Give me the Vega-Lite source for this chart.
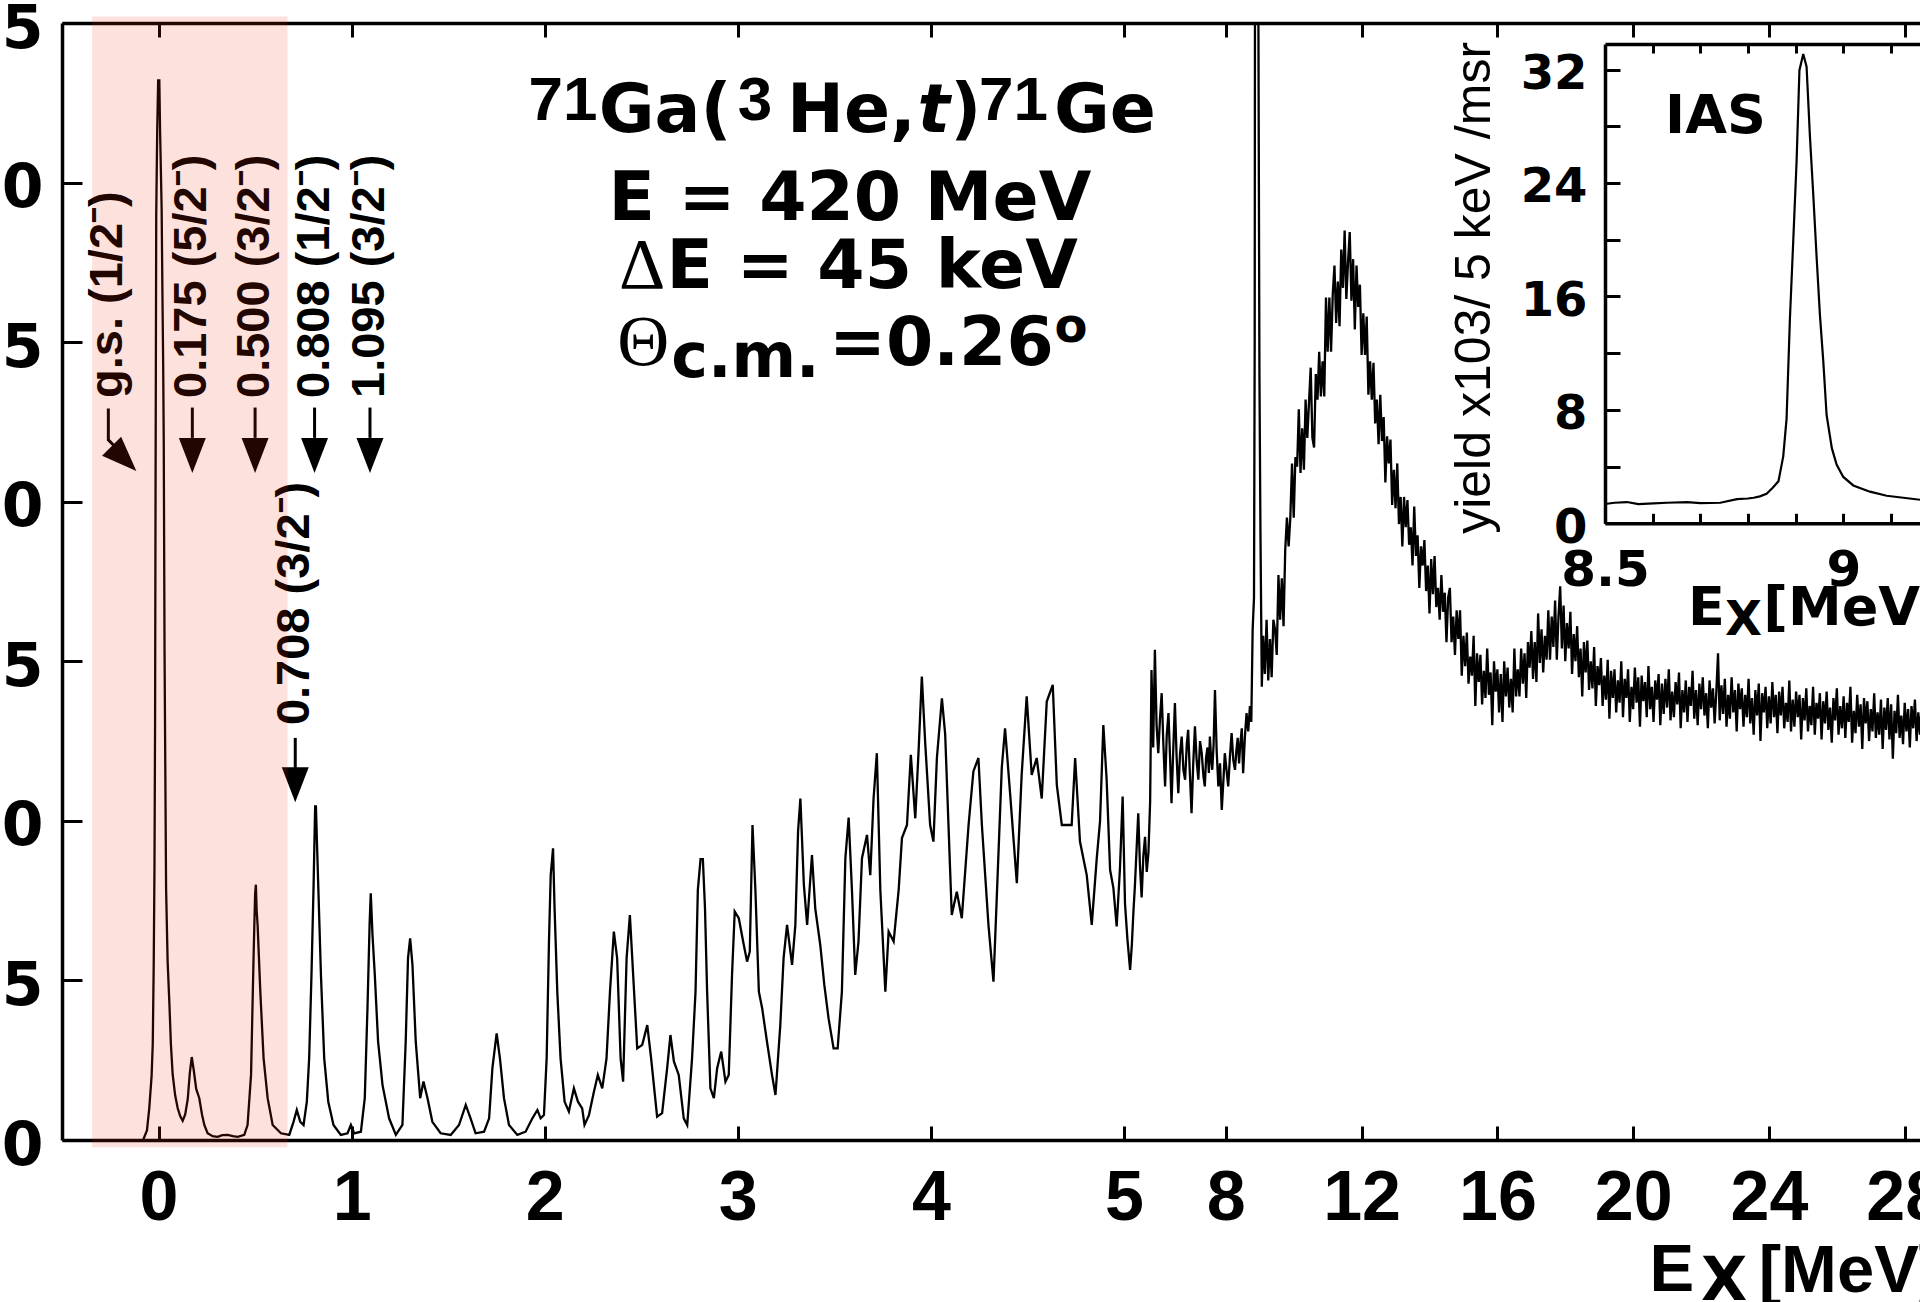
{
  "$schema": "https://vega.github.io/schema/vega-lite/v6.json",
  "autosize": {"type": "none"},
  "padding": {"left": 62, "top": 23, "right": 0, "bottom": 162},
  "width": 1858,
  "height": 1117,
  "background": "white",
  "config": {"view": {"stroke": null}, "axis": {"grid": false, "domainColor": "black", "tickColor": "black", "labelColor": "black"}},
  "datasets": {
    "spectrum": [
      {"E": -0.08, "v": 0}, {"E": -0.06, "v": 0.3}, {"E": -0.048, "v": 1.0}, {"E": -0.036, "v": 2.0}, {"E": -0.03, "v": 3.0},
      {"E": -0.025, "v": 5.5}, {"E": -0.021, "v": 8.6}, {"E": -0.018, "v": 13.0}, {"E": -0.016, "v": 19.0}, {"E": -0.014, "v": 24.0},
      {"E": -0.012, "v": 29.0}, {"E": -0.007, "v": 31.6}, {"E": -0.002, "v": 33.2}, {"E": 0.004, "v": 33.2}, {"E": 0.008, "v": 31.6},
      {"E": 0.016, "v": 29.2}, {"E": 0.02, "v": 26.6}, {"E": 0.024, "v": 24.3}, {"E": 0.027, "v": 21.8}, {"E": 0.031, "v": 15.4},
      {"E": 0.039, "v": 7.9}, {"E": 0.047, "v": 5.6}, {"E": 0.056, "v": 4.3}, {"E": 0.064, "v": 3.0}, {"E": 0.073, "v": 2.06},
      {"E": 0.086, "v": 1.4}, {"E": 0.099, "v": 1.0}, {"E": 0.112, "v": 0.75}, {"E": 0.125, "v": 0.6}, {"E": 0.138, "v": 0.8},
      {"E": 0.151, "v": 1.27}, {"E": 0.162, "v": 2.1}, {"E": 0.172, "v": 2.6}, {"E": 0.182, "v": 2.2}, {"E": 0.195, "v": 1.6},
      {"E": 0.211, "v": 1.31}, {"E": 0.225, "v": 0.8}, {"E": 0.237, "v": 0.47}, {"E": 0.254, "v": 0.21}, {"E": 0.28, "v": 0.12},
      {"E": 0.306, "v": 0.1}, {"E": 0.33, "v": 0.15}, {"E": 0.358, "v": 0.16}, {"E": 0.385, "v": 0.12}, {"E": 0.41, "v": 0.1},
      {"E": 0.444, "v": 0.16}, {"E": 0.461, "v": 0.47}, {"E": 0.479, "v": 2.04}, {"E": 0.492, "v": 5.7}, {"E": 0.5, "v": 7.7},
      {"E": 0.504, "v": 8.0}, {"E": 0.508, "v": 7.2}, {"E": 0.513, "v": 6.74}, {"E": 0.527, "v": 4.65}, {"E": 0.544, "v": 2.56},
      {"E": 0.565, "v": 1.31}, {"E": 0.591, "v": 0.47}, {"E": 0.634, "v": 0.21}, {"E": 0.677, "v": 0.16}, {"E": 0.699, "v": 0.57},
      {"E": 0.716, "v": 0.94}, {"E": 0.734, "v": 0.57}, {"E": 0.751, "v": 0.47}, {"E": 0.768, "v": 1.2}, {"E": 0.78, "v": 2.56},
      {"E": 0.792, "v": 5.17}, {"E": 0.803, "v": 8.0}, {"E": 0.811, "v": 10.45}, {"E": 0.815, "v": 10.45}, {"E": 0.822, "v": 9.0},
      {"E": 0.827, "v": 8.0}, {"E": 0.841, "v": 5.17}, {"E": 0.858, "v": 2.56}, {"E": 0.879, "v": 1.2}, {"E": 0.906, "v": 0.47},
      {"E": 0.944, "v": 0.16}, {"E": 0.979, "v": 0.21}, {"E": 0.996, "v": 0.47}, {"E": 1.013, "v": 0.21}, {"E": 1.048, "v": 0.26},
      {"E": 1.068, "v": 1.31}, {"E": 1.082, "v": 4.13}, {"E": 1.093, "v": 6.74}, {"E": 1.099, "v": 7.73}, {"E": 1.108, "v": 6.43},
      {"E": 1.12, "v": 5.17}, {"E": 1.137, "v": 3.08}, {"E": 1.16, "v": 1.72}, {"E": 1.194, "v": 0.68}, {"E": 1.229, "v": 0.16},
      {"E": 1.263, "v": 0.47}, {"E": 1.28, "v": 3.08}, {"E": 1.292, "v": 5.7}, {"E": 1.303, "v": 6.32}, {"E": 1.315, "v": 5.49},
      {"E": 1.332, "v": 3.08}, {"E": 1.355, "v": 1.31}, {"E": 1.372, "v": 1.83}, {"E": 1.393, "v": 1.31}, {"E": 1.418, "v": 0.57},
      {"E": 1.461, "v": 0.21}, {"E": 1.513, "v": 0.16}, {"E": 1.556, "v": 0.47}, {"E": 1.591, "v": 1.1}, {"E": 1.616, "v": 0.68},
      {"E": 1.642, "v": 0.21}, {"E": 1.686, "v": 0.26}, {"E": 1.712, "v": 0.68}, {"E": 1.729, "v": 2.25}, {"E": 1.751, "v": 3.34},
      {"E": 1.768, "v": 2.56}, {"E": 1.789, "v": 1.31}, {"E": 1.815, "v": 0.47}, {"E": 1.858, "v": 0.16}, {"E": 1.901, "v": 0.26},
      {"E": 1.936, "v": 0.68}, {"E": 1.962, "v": 0.94}, {"E": 1.979, "v": 0.68}, {"E": 1.996, "v": 0.78}, {"E": 2.01, "v": 2.56},
      {"E": 2.022, "v": 6.22}, {"E": 2.031, "v": 8.3}, {"E": 2.043, "v": 9.14}, {"E": 2.051, "v": 7.26}, {"E": 2.065, "v": 4.65},
      {"E": 2.082, "v": 2.56}, {"E": 2.103, "v": 1.2}, {"E": 2.125, "v": 0.89}, {"E": 2.151, "v": 1.62}, {"E": 2.172, "v": 1.2},
      {"E": 2.194, "v": 0.99}, {"E": 2.206, "v": 0.47}, {"E": 2.229, "v": 0.78}, {"E": 2.255, "v": 1.52}, {"E": 2.275, "v": 2.04},
      {"E": 2.298, "v": 1.62}, {"E": 2.32, "v": 2.56}, {"E": 2.338, "v": 4.65}, {"E": 2.358, "v": 6.53}, {"E": 2.375, "v": 5.7},
      {"E": 2.393, "v": 2.56}, {"E": 2.406, "v": 1.83}, {"E": 2.424, "v": 5.7}, {"E": 2.441, "v": 7.05}, {"E": 2.458, "v": 5.17},
      {"E": 2.479, "v": 2.87}, {"E": 2.505, "v": 2.98}, {"E": 2.531, "v": 3.6}, {"E": 2.551, "v": 2.56}, {"E": 2.582, "v": 0.73},
      {"E": 2.608, "v": 0.84}, {"E": 2.634, "v": 2.25}, {"E": 2.651, "v": 3.29}, {"E": 2.669, "v": 2.46}, {"E": 2.694, "v": 2.04},
      {"E": 2.72, "v": 0.68}, {"E": 2.738, "v": 0.47}, {"E": 2.763, "v": 2.56}, {"E": 2.781, "v": 4.65}, {"E": 2.793, "v": 7.84},
      {"E": 2.807, "v": 8.8}, {"E": 2.819, "v": 8.8}, {"E": 2.83, "v": 7.26}, {"E": 2.841, "v": 4.65}, {"E": 2.858, "v": 1.62},
      {"E": 2.876, "v": 1.31}, {"E": 2.893, "v": 2.25}, {"E": 2.914, "v": 2.77}, {"E": 2.936, "v": 1.83}, {"E": 2.953, "v": 2.04},
      {"E": 2.97, "v": 5.17}, {"E": 2.984, "v": 7.16}, {"E": 3.005, "v": 6.95}, {"E": 3.031, "v": 6.11}, {"E": 3.048, "v": 5.59},
      {"E": 3.062, "v": 5.9}, {"E": 3.076, "v": 9.87}, {"E": 3.091, "v": 7.84}, {"E": 3.109, "v": 4.65}, {"E": 3.126, "v": 4.13},
      {"E": 3.151, "v": 3.08}, {"E": 3.177, "v": 2.04}, {"E": 3.195, "v": 1.41}, {"E": 3.22, "v": 3.6}, {"E": 3.237, "v": 5.7},
      {"E": 3.255, "v": 6.74}, {"E": 3.281, "v": 5.49}, {"E": 3.298, "v": 6.74}, {"E": 3.312, "v": 9.67}, {"E": 3.324, "v": 10.7},
      {"E": 3.342, "v": 8.0}, {"E": 3.359, "v": 6.74}, {"E": 3.384, "v": 8.93}, {"E": 3.401, "v": 7.26}, {"E": 3.427, "v": 6.11},
      {"E": 3.448, "v": 4.86}, {"E": 3.47, "v": 3.81}, {"E": 3.496, "v": 2.87}, {"E": 3.517, "v": 2.87}, {"E": 3.539, "v": 4.65},
      {"E": 3.557, "v": 8.83}, {"E": 3.574, "v": 10.1}, {"E": 3.591, "v": 7.84}, {"E": 3.608, "v": 5.17}, {"E": 3.625, "v": 6.22},
      {"E": 3.643, "v": 8.83}, {"E": 3.669, "v": 9.56}, {"E": 3.686, "v": 8.3}, {"E": 3.703, "v": 10.7}, {"E": 3.72, "v": 12.12},
      {"E": 3.738, "v": 7.84}, {"E": 3.764, "v": 4.65}, {"E": 3.781, "v": 6.53}, {"E": 3.807, "v": 6.22}, {"E": 3.833, "v": 7.84},
      {"E": 3.85, "v": 9.46}, {"E": 3.876, "v": 9.87}, {"E": 3.896, "v": 12.07}, {"E": 3.919, "v": 10.08}, {"E": 3.936, "v": 12.17},
      {"E": 3.953, "v": 14.52}, {"E": 3.97, "v": 12.49}, {"E": 3.996, "v": 9.87}, {"E": 4.013, "v": 9.35}, {"E": 4.031, "v": 11.97},
      {"E": 4.057, "v": 13.84}, {"E": 4.074, "v": 12.7}, {"E": 4.091, "v": 9.87}, {"E": 4.108, "v": 7.05}, {"E": 4.134, "v": 7.78},
      {"E": 4.16, "v": 6.95}, {"E": 4.195, "v": 9.87}, {"E": 4.22, "v": 11.55}, {"E": 4.246, "v": 11.97}, {"E": 4.264, "v": 9.87},
      {"E": 4.298, "v": 6.74}, {"E": 4.324, "v": 4.96}, {"E": 4.341, "v": 7.58}, {"E": 4.367, "v": 11.66}, {"E": 4.384, "v": 12.9},
      {"E": 4.41, "v": 10.87}, {"E": 4.445, "v": 8.05}, {"E": 4.47, "v": 11.44}, {"E": 4.496, "v": 13.9}, {"E": 4.522, "v": 11.44},
      {"E": 4.548, "v": 11.97}, {"E": 4.574, "v": 10.7}, {"E": 4.6, "v": 13.74}, {"E": 4.631, "v": 14.26}, {"E": 4.652, "v": 11.13},
      {"E": 4.678, "v": 9.87}, {"E": 4.703, "v": 9.87}, {"E": 4.729, "v": 9.87}, {"E": 4.747, "v": 11.97}, {"E": 4.772, "v": 9.35},
      {"E": 4.807, "v": 8.3}, {"E": 4.833, "v": 6.74}, {"E": 4.859, "v": 8.83}, {"E": 4.876, "v": 10.0}, {"E": 4.893, "v": 13.0},
      {"E": 4.91, "v": 11.3}, {"E": 4.928, "v": 8.46}, {"E": 4.945, "v": 7.9}, {"E": 4.962, "v": 6.69}, {"E": 4.979, "v": 8.5},
      {"E": 4.993, "v": 10.76},
      {"E": 5.03, "v": 7.4}, {"E": 5.1, "v": 6.3}, {"E": 5.18, "v": 5.33}, {"E": 5.23, "v": 6.1}, {"E": 5.28, "v": 7.2},
      {"E": 5.32, "v": 7.94}, {"E": 5.37, "v": 9.1}, {"E": 5.42, "v": 10.24}, {"E": 5.47, "v": 8.6}, {"E": 5.52, "v": 7.6},
      {"E": 5.57, "v": 8.9}, {"E": 5.62, "v": 9.5}, {"E": 5.67, "v": 8.4}, {"E": 5.72, "v": 9.0}, {"E": 5.77, "v": 10.6},
      {"E": 5.81, "v": 14.73}, {"E": 5.86, "v": 12.3}, {"E": 5.91, "v": 15.36}, {"E": 5.96, "v": 13.0}, {"E": 6.01, "v": 12.12},
      {"E": 6.06, "v": 13.2}, {"E": 6.11, "v": 14.0}, {"E": 6.16, "v": 12.4}, {"E": 6.21, "v": 11.08}, {"E": 6.26, "v": 12.7},
      {"E": 6.31, "v": 13.38}, {"E": 6.36, "v": 11.9}, {"E": 6.4, "v": 10.55}, {"E": 6.45, "v": 12.2}, {"E": 6.5, "v": 13.69},
      {"E": 6.55, "v": 12.0}, {"E": 6.6, "v": 10.87}, {"E": 6.65, "v": 12.1}, {"E": 6.7, "v": 12.64}, {"E": 6.75, "v": 11.6},
      {"E": 6.8, "v": 11.29}, {"E": 6.85, "v": 12.4}, {"E": 6.89, "v": 12.85}, {"E": 6.94, "v": 11.5}, {"E": 6.99, "v": 10.24},
      {"E": 7.04, "v": 11.8}, {"E": 7.09, "v": 12.96}, {"E": 7.14, "v": 11.9}, {"E": 7.19, "v": 11.29}, {"E": 7.24, "v": 12.5},
      {"E": 7.29, "v": 12.12}, {"E": 7.34, "v": 11.4}, {"E": 7.38, "v": 11.08}, {"E": 7.42, "v": 12.0}, {"E": 7.46, "v": 12.3},
      {"E": 7.5, "v": 11.5}, {"E": 7.53, "v": 12.64}, {"E": 7.57, "v": 11.9}, {"E": 7.6, "v": 11.6}, {"E": 7.64, "v": 12.4},
      {"E": 7.68, "v": 14.1}, {"E": 7.73, "v": 12.2}, {"E": 7.78, "v": 11.08}, {"E": 7.83, "v": 11.8}, {"E": 7.88, "v": 10.34},
      {"E": 7.93, "v": 11.3}, {"E": 7.97, "v": 12.12}, {"E": 8.02, "v": 11.6}, {"E": 8.07, "v": 11.08}, {"E": 8.12, "v": 12.0},
      {"E": 8.17, "v": 12.75}, {"E": 8.22, "v": 11.9}, {"E": 8.27, "v": 11.6}, {"E": 8.31, "v": 12.2}, {"E": 8.35, "v": 12.6},
      {"E": 8.39, "v": 11.8}, {"E": 8.42, "v": 12.33}, {"E": 8.47, "v": 12.9}, {"E": 8.51, "v": 11.49}, {"E": 8.56, "v": 12.6},
      {"E": 8.61, "v": 13.38}, {"E": 8.66, "v": 12.8}, {"E": 8.71, "v": 13.6}, {"E": 8.75, "v": 13.1}, {"E": 8.79, "v": 16.0},
      {"E": 8.83, "v": 17.0}, {"E": 8.85, "v": 25.0}, {"E": 8.87, "v": 50.0}, {"E": 8.9, "v": 80.0}, {"E": 8.93, "v": 60.0},
      {"E": 8.96, "v": 35.0}, {"E": 8.99, "v": 24.0}, {"E": 9.02, "v": 19.0}, {"E": 9.06, "v": 14.2},
      {"E": 9.1, "v": 15.8}, {"E": 9.15, "v": 14.6}, {"E": 9.2, "v": 16.3}, {"E": 9.25, "v": 14.4}, {"E": 9.3, "v": 15.7},
      {"E": 9.35, "v": 14.5}, {"E": 9.4, "v": 16.3}, {"E": 9.45, "v": 16.0}, {"E": 9.5, "v": 15.2}, {"E": 9.55, "v": 17.7},
      {"E": 9.6, "v": 16.3}, {"E": 9.65, "v": 17.6}, {"E": 9.7, "v": 16.1}, {"E": 9.75, "v": 18.5}, {"E": 9.8, "v": 19.5},
      {"E": 9.85, "v": 18.6}, {"E": 9.9, "v": 19.5}, {"E": 9.95, "v": 21.2}, {"E": 10.0, "v": 19.5}, {"E": 10.05, "v": 21.4},
      {"E": 10.1, "v": 21.1}, {"E": 10.15, "v": 22.9}, {"E": 10.2, "v": 20.9}, {"E": 10.25, "v": 22.3}, {"E": 10.3, "v": 21.0},
      {"E": 10.35, "v": 23.2}, {"E": 10.4, "v": 22.0}, {"E": 10.45, "v": 23.1}, {"E": 10.5, "v": 24.2}, {"E": 10.55, "v": 22.0},
      {"E": 10.6, "v": 21.7}, {"E": 10.65, "v": 24.0}, {"E": 10.7, "v": 23.2}, {"E": 10.75, "v": 24.7}, {"E": 10.8, "v": 23.3},
      {"E": 10.85, "v": 24.4}, {"E": 10.9, "v": 23.3}, {"E": 10.95, "v": 26.4}, {"E": 11.0, "v": 24.7}, {"E": 11.05, "v": 26.4},
      {"E": 11.1, "v": 24.7}, {"E": 11.15, "v": 26.5}, {"E": 11.2, "v": 27.4}, {"E": 11.25, "v": 25.6}, {"E": 11.3, "v": 26.9},
      {"E": 11.35, "v": 25.5}, {"E": 11.4, "v": 27.9}, {"E": 11.45, "v": 26.7}, {"E": 11.5, "v": 28.5}, {"E": 11.55, "v": 26.35},
      {"E": 11.6, "v": 27.5}, {"E": 11.65, "v": 28.45}, {"E": 11.7, "v": 26.3}, {"E": 11.75, "v": 27.6}, {"E": 11.8, "v": 25.4},
      {"E": 11.85, "v": 27.4}, {"E": 11.9, "v": 26.1}, {"E": 11.95, "v": 26.8}, {"E": 12.0, "v": 24.6}, {"E": 12.05, "v": 25.9},
      {"E": 12.1, "v": 24.6}, {"E": 12.15, "v": 25.8}, {"E": 12.2, "v": 23.35}, {"E": 12.25, "v": 24.4}, {"E": 12.3, "v": 23.2},
      {"E": 12.35, "v": 24.35}, {"E": 12.4, "v": 22.45}, {"E": 12.45, "v": 23.2}, {"E": 12.5, "v": 21.8}, {"E": 12.55, "v": 23.35},
      {"E": 12.6, "v": 21.9}, {"E": 12.65, "v": 22.65}, {"E": 12.7, "v": 20.6}, {"E": 12.75, "v": 22.05}, {"E": 12.8, "v": 21.2},
      {"E": 12.85, "v": 21.95}, {"E": 12.9, "v": 19.9}, {"E": 12.95, "v": 21.0}, {"E": 13.0, "v": 19.8}, {"E": 13.05, "v": 21.2},
      {"E": 13.1, "v": 19.3}, {"E": 13.15, "v": 20.15}, {"E": 13.2, "v": 18.6}, {"E": 13.25, "v": 20.15}, {"E": 13.3, "v": 19.2},
      {"E": 13.35, "v": 20.05}, {"E": 13.4, "v": 18.65}, {"E": 13.45, "v": 19.2}, {"E": 13.5, "v": 18.0}, {"E": 13.55, "v": 19.85},
      {"E": 13.6, "v": 18.3}, {"E": 13.65, "v": 18.95}, {"E": 13.7, "v": 17.3}, {"E": 13.75, "v": 18.6}, {"E": 13.8, "v": 18.0},
      {"E": 13.85, "v": 18.8}, {"E": 13.9, "v": 17.2}, {"E": 13.95, "v": 18.0}, {"E": 14.0, "v": 16.5}, {"E": 14.05, "v": 18.2},
      {"E": 14.1, "v": 17.1}, {"E": 14.15, "v": 18.3}, {"E": 14.2, "v": 16.7}, {"E": 14.25, "v": 17.3}, {"E": 14.3, "v": 16.3},
      {"E": 14.35, "v": 17.7}, {"E": 14.4, "v": 16.55}, {"E": 14.45, "v": 17.15}, {"E": 14.5, "v": 15.6}, {"E": 14.55, "v": 17.0},
      {"E": 14.6, "v": 17.3}, {"E": 14.65, "v": 15.6}, {"E": 14.7, "v": 16.4}, {"E": 14.75, "v": 15.2}, {"E": 14.8, "v": 16.6},
      {"E": 14.85, "v": 15.7}, {"E": 14.9, "v": 16.6}, {"E": 14.95, "v": 14.55}, {"E": 15.0, "v": 15.8}, {"E": 15.05, "v": 14.85},
      {"E": 15.1, "v": 15.9}, {"E": 15.15, "v": 14.3}, {"E": 15.2, "v": 15.15}, {"E": 15.25, "v": 14.55}, {"E": 15.3, "v": 15.8},
      {"E": 15.35, "v": 13.6}, {"E": 15.4, "v": 15.25}, {"E": 15.45, "v": 14.35}, {"E": 15.5, "v": 15.2}, {"E": 15.55, "v": 13.65},
      {"E": 15.6, "v": 14.7}, {"E": 15.65, "v": 13.85}, {"E": 15.7, "v": 15.4}, {"E": 15.75, "v": 13.95}, {"E": 15.8, "v": 14.65},
      {"E": 15.85, "v": 13.0}, {"E": 15.9, "v": 15.0}, {"E": 15.95, "v": 14.05}, {"E": 16.0, "v": 14.75}, {"E": 16.05, "v": 13.4},
      {"E": 16.1, "v": 14.6}, {"E": 16.15, "v": 13.1}, {"E": 16.2, "v": 15.0}, {"E": 16.25, "v": 13.9}, {"E": 16.3, "v": 14.8},
      {"E": 16.35, "v": 13.55}, {"E": 16.4, "v": 14.45}, {"E": 16.45, "v": 13.4}, {"E": 16.5, "v": 15.4}, {"E": 16.55, "v": 13.9},
      {"E": 16.6, "v": 14.75}, {"E": 16.65, "v": 13.9}, {"E": 16.7, "v": 15.4}, {"E": 16.75, "v": 14.3}, {"E": 16.8, "v": 15.25},
      {"E": 16.85, "v": 13.85}, {"E": 16.9, "v": 15.6}, {"E": 16.95, "v": 14.8}, {"E": 17.0, "v": 15.95}, {"E": 17.05, "v": 14.45},
      {"E": 17.1, "v": 15.6}, {"E": 17.15, "v": 14.35}, {"E": 17.2, "v": 16.5}, {"E": 17.25, "v": 14.95}, {"E": 17.3, "v": 16.0},
      {"E": 17.35, "v": 14.65}, {"E": 17.4, "v": 15.8}, {"E": 17.45, "v": 15.05}, {"E": 17.5, "v": 16.6}, {"E": 17.55, "v": 15.05},
      {"E": 17.6, "v": 16.4}, {"E": 17.65, "v": 15.45}, {"E": 17.7, "v": 16.9}, {"E": 17.75, "v": 15.05}, {"E": 17.8, "v": 16.4},
      {"E": 17.85, "v": 17.35}, {"E": 17.9, "v": 15.4}, {"E": 17.95, "v": 16.75}, {"E": 18.0, "v": 15.0}, {"E": 18.05, "v": 16.2},
      {"E": 18.1, "v": 15.4}, {"E": 18.15, "v": 16.55}, {"E": 18.2, "v": 14.6}, {"E": 18.25, "v": 15.85}, {"E": 18.3, "v": 15.0},
      {"E": 18.35, "v": 16.1}, {"E": 18.4, "v": 14.5}, {"E": 18.45, "v": 15.4}, {"E": 18.5, "v": 13.9}, {"E": 18.55, "v": 15.6},
      {"E": 18.6, "v": 14.65}, {"E": 18.65, "v": 15.65}, {"E": 18.7, "v": 14.1}, {"E": 18.75, "v": 15.0}, {"E": 18.8, "v": 14.15},
      {"E": 18.85, "v": 15.45}, {"E": 18.9, "v": 13.6}, {"E": 18.95, "v": 14.85}, {"E": 19.0, "v": 14.25}, {"E": 19.05, "v": 15.1},
      {"E": 19.1, "v": 13.6}, {"E": 19.15, "v": 14.55}, {"E": 19.2, "v": 13.8}, {"E": 19.25, "v": 15.05}, {"E": 19.3, "v": 13.2},
      {"E": 19.35, "v": 14.7}, {"E": 19.4, "v": 13.85}, {"E": 19.45, "v": 14.75}, {"E": 19.5, "v": 13.4}, {"E": 19.55, "v": 14.4},
      {"E": 19.6, "v": 13.7}, {"E": 19.65, "v": 15.0}, {"E": 19.7, "v": 13.25}, {"E": 19.75, "v": 14.45}, {"E": 19.8, "v": 13.85},
      {"E": 19.85, "v": 14.75}, {"E": 19.9, "v": 13.1}, {"E": 19.95, "v": 14.2}, {"E": 20.0, "v": 13.5}, {"E": 20.05, "v": 14.8},
      {"E": 20.1, "v": 13.7}, {"E": 20.15, "v": 14.5}, {"E": 20.2, "v": 12.95}, {"E": 20.25, "v": 14.55}, {"E": 20.3, "v": 13.75},
      {"E": 20.35, "v": 14.35}, {"E": 20.4, "v": 13.25}, {"E": 20.45, "v": 14.85}, {"E": 20.5, "v": 13.5}, {"E": 20.55, "v": 14.2},
      {"E": 20.6, "v": 13.1}, {"E": 20.65, "v": 14.4}, {"E": 20.7, "v": 13.8}, {"E": 20.75, "v": 14.6}, {"E": 20.8, "v": 13.0},
      {"E": 20.85, "v": 14.3}, {"E": 20.9, "v": 13.35}, {"E": 20.95, "v": 14.45}, {"E": 21.0, "v": 13.55}, {"E": 21.05, "v": 14.75},
      {"E": 21.1, "v": 13.15}, {"E": 21.15, "v": 14.05}, {"E": 21.2, "v": 13.25}, {"E": 21.25, "v": 14.35}, {"E": 21.3, "v": 13.65},
      {"E": 21.35, "v": 14.65}, {"E": 21.4, "v": 12.9}, {"E": 21.45, "v": 14.1}, {"E": 21.5, "v": 13.4}, {"E": 21.55, "v": 14.4},
      {"E": 21.6, "v": 13.1}, {"E": 21.65, "v": 14.2}, {"E": 21.7, "v": 13.6}, {"E": 21.75, "v": 14.7}, {"E": 21.8, "v": 13.2},
      {"E": 21.85, "v": 14.1}, {"E": 21.9, "v": 13.0}, {"E": 21.95, "v": 14.3}, {"E": 22.0, "v": 13.5}, {"E": 22.05, "v": 14.5},
      {"E": 22.1, "v": 13.3}, {"E": 22.15, "v": 14.0}, {"E": 22.2, "v": 12.9}, {"E": 22.25, "v": 14.4}, {"E": 22.3, "v": 13.55},
      {"E": 22.35, "v": 14.15}, {"E": 22.4, "v": 13.05}, {"E": 22.45, "v": 14.05}, {"E": 22.5, "v": 15.25}, {"E": 22.55, "v": 13.15},
      {"E": 22.6, "v": 14.25}, {"E": 22.65, "v": 13.35}, {"E": 22.7, "v": 14.45}, {"E": 22.75, "v": 12.95}, {"E": 22.8, "v": 13.95},
      {"E": 22.85, "v": 13.2}, {"E": 22.9, "v": 14.5}, {"E": 22.95, "v": 13.4}, {"E": 23.0, "v": 14.1}, {"E": 23.05, "v": 12.8},
      {"E": 23.1, "v": 14.3}, {"E": 23.15, "v": 13.5}, {"E": 23.2, "v": 14.15}, {"E": 23.25, "v": 12.95}, {"E": 23.3, "v": 13.95},
      {"E": 23.35, "v": 13.25}, {"E": 23.4, "v": 14.45}, {"E": 23.45, "v": 13.05}, {"E": 23.5, "v": 13.85}, {"E": 23.55, "v": 12.7},
      {"E": 23.6, "v": 14.1}, {"E": 23.65, "v": 13.3}, {"E": 23.7, "v": 14.3}, {"E": 23.75, "v": 12.5}, {"E": 23.8, "v": 14.0},
      {"E": 23.85, "v": 13.4}, {"E": 23.9, "v": 14.2}, {"E": 23.95, "v": 12.9}, {"E": 24.0, "v": 13.9}, {"E": 24.05, "v": 13.05},
      {"E": 24.1, "v": 14.35}, {"E": 24.15, "v": 13.25}, {"E": 24.2, "v": 13.95}, {"E": 24.25, "v": 12.75}, {"E": 24.3, "v": 14.05},
      {"E": 24.35, "v": 13.3}, {"E": 24.4, "v": 14.2}, {"E": 24.45, "v": 12.9}, {"E": 24.5, "v": 13.7}, {"E": 24.55, "v": 13.1},
      {"E": 24.6, "v": 14.4}, {"E": 24.65, "v": 12.8}, {"E": 24.7, "v": 13.8}, {"E": 24.75, "v": 12.95}, {"E": 24.8, "v": 14.05},
      {"E": 24.85, "v": 13.25}, {"E": 24.9, "v": 13.95}, {"E": 24.95, "v": 12.55}, {"E": 25.0, "v": 13.85}, {"E": 25.05, "v": 13.15},
      {"E": 25.1, "v": 14.15}, {"E": 25.15, "v": 12.8}, {"E": 25.2, "v": 13.6}, {"E": 25.25, "v": 13.0}, {"E": 25.3, "v": 14.2},
      {"E": 25.35, "v": 12.7}, {"E": 25.4, "v": 13.7}, {"E": 25.45, "v": 13.2}, {"E": 25.5, "v": 14.0}, {"E": 25.55, "v": 12.55},
      {"E": 25.6, "v": 13.75}, {"E": 25.65, "v": 13.05}, {"E": 25.7, "v": 14.05}, {"E": 25.75, "v": 12.85}, {"E": 25.8, "v": 13.55},
      {"E": 25.85, "v": 12.45}, {"E": 25.9, "v": 13.85}, {"E": 25.95, "v": 13.15}, {"E": 26.0, "v": 14.15}, {"E": 26.05, "v": 12.7},
      {"E": 26.1, "v": 13.6}, {"E": 26.15, "v": 12.9}, {"E": 26.2, "v": 13.9}, {"E": 26.25, "v": 12.6}, {"E": 26.3, "v": 13.7},
      {"E": 26.35, "v": 13.1}, {"E": 26.4, "v": 14.2}, {"E": 26.45, "v": 12.45}, {"E": 26.5, "v": 13.45}, {"E": 26.55, "v": 12.75},
      {"E": 26.6, "v": 13.95}, {"E": 26.65, "v": 12.95}, {"E": 26.7, "v": 13.65}, {"E": 26.75, "v": 12.25}, {"E": 26.8, "v": 13.85},
      {"E": 26.85, "v": 13.05}, {"E": 26.9, "v": 13.75}, {"E": 26.95, "v": 12.5}, {"E": 27.0, "v": 13.5}, {"E": 27.05, "v": 12.8},
      {"E": 27.1, "v": 14.0}, {"E": 27.15, "v": 12.6}, {"E": 27.2, "v": 13.4}, {"E": 27.25, "v": 12.7}, {"E": 27.3, "v": 13.8},
      {"E": 27.35, "v": 12.25}, {"E": 27.4, "v": 13.55}, {"E": 27.45, "v": 12.85}, {"E": 27.5, "v": 13.85}, {"E": 27.55, "v": 12.55},
      {"E": 27.6, "v": 13.65}, {"E": 27.65, "v": 11.95}, {"E": 27.7, "v": 13.45}, {"E": 27.75, "v": 12.75}, {"E": 27.8, "v": 13.95},
      {"E": 27.85, "v": 12.6}, {"E": 27.9, "v": 13.3}, {"E": 27.95, "v": 12.4}, {"E": 28.0, "v": 13.7}, {"E": 28.05, "v": 12.8},
      {"E": 28.1, "v": 13.5}, {"E": 28.15, "v": 12.3}, {"E": 28.2, "v": 13.6}, {"E": 28.25, "v": 12.9}, {"E": 28.3, "v": 13.8},
      {"E": 28.35, "v": 12.5}, {"E": 28.4, "v": 13.4}, {"E": 28.45, "v": 12.7}, {"E": 28.5, "v": 13.6}
    ],
    "ias": [
      {"E": 8.5, "v": 1.36}, {"E": 8.52, "v": 1.45}, {"E": 8.546, "v": 1.5}, {"E": 8.57, "v": 1.35}, {"E": 8.602, "v": 1.4},
      {"E": 8.63, "v": 1.45}, {"E": 8.672, "v": 1.5}, {"E": 8.7, "v": 1.42}, {"E": 8.742, "v": 1.45}, {"E": 8.777, "v": 1.7},
      {"E": 8.8, "v": 1.75}, {"E": 8.812, "v": 1.8}, {"E": 8.825, "v": 1.9}, {"E": 8.839, "v": 2.08}, {"E": 8.852, "v": 2.5},
      {"E": 8.864, "v": 2.96}, {"E": 8.874, "v": 4.72}, {"E": 8.881, "v": 7.36}, {"E": 8.888, "v": 14.4}, {"E": 8.895, "v": 19.9},
      {"E": 8.902, "v": 25.5}, {"E": 8.908, "v": 31.95}, {"E": 8.916, "v": 33.1}, {"E": 8.923, "v": 32.2}, {"E": 8.93, "v": 27.3},
      {"E": 8.937, "v": 23.2}, {"E": 8.944, "v": 18.8}, {"E": 8.951, "v": 14.7}, {"E": 8.958, "v": 11.45}, {"E": 8.965, "v": 7.64},
      {"E": 8.976, "v": 5.3}, {"E": 8.986, "v": 4.14}, {"E": 9.0, "v": 3.27}, {"E": 9.021, "v": 2.67}, {"E": 9.056, "v": 2.23},
      {"E": 9.091, "v": 1.94}, {"E": 9.126, "v": 1.8}, {"E": 9.161, "v": 1.66}
    ],
    "levels": [
      {"E": -0.26, "v": 23.25, "t": "g.s. (1/2⁻)"},
      {"E": 0.175, "v": 23.25, "t": "0.175 (5/2⁻)"},
      {"E": 0.5, "v": 23.25, "t": "0.500 (3/2⁻)"},
      {"E": 0.808, "v": 23.25, "t": "0.808 (1/2⁻)"},
      {"E": 1.095, "v": 23.25, "t": "1.095 (3/2⁻)"},
      {"E": 0.708, "v": 13.0, "t": "0.708 (3/2⁻)"}
    ],
    "arrowShafts": [
      {"E": 0.175, "v": 22.95, "v2": 22.0},
      {"E": 0.5, "v": 22.95, "v2": 22.0},
      {"E": 0.808, "v": 22.95, "v2": 22.0},
      {"E": 1.095, "v": 22.95, "v2": 22.0},
      {"E": 0.708, "v": 12.6, "v2": 11.66}
    ],
    "arrowHeads": [
      {"E": 0.175, "v": 21.45}, {"E": 0.5, "v": 21.45}, {"E": 0.808, "v": 21.45}, {"E": 1.095, "v": 21.45}, {"E": 0.708, "v": 11.13}
    ],
    "gsShaft": [
      {"E": -0.26, "v": 22.92, "k": 0}, {"E": -0.26, "v": 21.94, "k": 1}, {"E": -0.22, "v": 21.69, "k": 2}
    ],
    "gsHead": [{"E": -0.179, "v": 21.35}],
    "band": [{"E": -0.344, "E2": 0.668, "v": -0.23, "v2": 35.2}],
    "titleBold": [
      {"E": 2.28, "v": 31.6, "t": "Ga("},
      {"E": 3.255, "v": 31.6, "t": "He,"},
      {"E": 4.1, "v": 31.6, "t": ")"},
      {"E": 4.637, "v": 31.6, "t": "Ge"},
      {"E": 2.33, "v": 28.83, "t": "E = 420 MeV"},
      {"E": 2.631, "v": 26.69, "t": "E = 45 keV"},
      {"E": 3.472, "v": 24.29, "t": "=0.26"}
    ],
    "titleSup": [
      {"E": 1.916, "v": 31.96, "t": "71"},
      {"E": 3.0, "v": 31.96, "t": "3"},
      {"E": 4.249, "v": 31.96, "t": "71"}
    ],
    "titleItalic": [{"E": 3.93, "v": 31.6, "t": "t"}],
    "titleSymbol": [
      {"E": 2.385, "v": 26.69, "t": "Δ"},
      {"E": 2.375, "v": 24.29, "t": "Θ"}
    ],
    "titleSub": [{"E": 2.655, "v": 23.91, "t": "c.m."}],
    "titleDeg": [{"E": 4.64, "v": 25.01, "t": "o"}],
    "xTitleBig": [
      {"E": 20.484, "v": -4.73, "t": "E"},
      {"E": 23.7, "v": -4.76, "t": "[MeV]"}
    ],
    "xTitleSub": [{"E": 22.0, "v": -5.02, "t": "X"}],
    "insetText": [
      {"E": 8.626, "v": 27.55, "t": "IAS"},
      {"E": 8.674, "v": -7.18, "t": "E"},
      {"E": 8.832, "v": -7.18, "t": "[MeV]"}
    ],
    "insetSub": [{"E": 8.752, "v": -7.88, "t": "X"}],
    "insetYTitle": [{"E": 8.227, "v": 16.6, "t": "yield x103/ 5 keV /msr"}]
  },
  "layer": [
    {
      "encoding": {
        "x": {"field": "E", "type": "quantitative", "scale": {"domain": [-0.5, 5, 28.45], "range": [0, 1062, 1858], "nice": false, "zero": false}, "axis": null},
        "y": {"field": "v", "type": "quantitative", "scale": {"domain": [0, 35], "nice": false, "zero": false}, "axis": null}
      },
      "layer": [
        {
          "data": {"name": "spectrum"},
          "mark": {"type": "line", "color": "black", "strokeWidth": 2.3, "clip": true},
          "encoding": {
            "x": {"field": "E", "type": "quantitative", "scale": {"domain": [-0.5, 5, 28.45], "range": [0, 1062, 1858], "nice": false, "zero": false},
              "axis": {"orient": "bottom", "values": [0, 1, 2, 3, 4, 5, 8, 12, 16, 20, 24, 28], "format": "d", "title": null,
                "labelFont": "Liberation Sans", "labelFontWeight": "bold", "labelFontSize": 70, "labelPadding": 38,
                "tickSize": -14, "tickWidth": 3, "domainWidth": 3.5, "labelFlush": false, "labelOverlap": false, "labelBound": false}},
            "y": {"field": "v", "type": "quantitative", "scale": {"domain": [0, 35], "nice": false, "zero": false},
              "axis": {"orient": "left", "values": [0, 5, 10, 15, 20, 25, 30, 35], "labelExpr": "slice(datum.label, -1)", "title": null,
                "labelFont": "DejaVu Sans", "labelFontWeight": "bold", "labelFontSize": 60, "labelPadding": 39, "labelOffset": 6,
                "tickSize": -20, "tickWidth": 3, "domainWidth": 3.5, "labelFlush": false, "labelOverlap": false, "labelBound": false}}
          }
        },
        {
          "data": {"name": "arrowShafts"},
          "mark": {"type": "rule", "color": "black", "strokeWidth": 3},
          "encoding": {
            "x": {"field": "E", "type": "quantitative", "scale": {"domain": [-0.5, 5, 28.45], "range": [0, 1062, 1858], "nice": false, "zero": false},
              "axis": {"orient": "top", "values": [0, 1, 2, 3, 4, 5, 8, 12, 16, 20, 24, 28], "labels": false, "title": null,
                "tickSize": -14, "tickWidth": 3, "domainWidth": 3.5}},
            "y2": {"field": "v2"}
          }
        },
        {
          "data": {"name": "arrowHeads"},
          "mark": {"type": "point", "shape": "M-0.77,-1L0.77,-1L0,1Z", "size": 1225, "filled": true, "color": "black", "opacity": 1, "strokeWidth": 0}
        },
        {
          "data": {"name": "gsShaft"},
          "mark": {"type": "line", "color": "black", "strokeWidth": 3},
          "encoding": {"order": {"field": "k", "type": "quantitative"}}
        },
        {
          "data": {"name": "gsHead"},
          "mark": {"type": "point", "shape": "M-0.77,-1L0.77,-1L0,1Z", "size": 1225, "angle": 315, "filled": true, "color": "black", "opacity": 1, "strokeWidth": 0}
        },
        {
          "data": {"name": "levels"},
          "mark": {"type": "text", "angle": 270, "align": "left", "baseline": "middle", "font": "Liberation Sans", "fontWeight": "bold", "fontSize": 47, "color": "black"},
          "encoding": {"text": {"field": "t"}}
        },
        {
          "data": {"name": "titleBold"},
          "mark": {"type": "text", "align": "left", "baseline": "alphabetic", "font": "DejaVu Sans", "fontWeight": "bold", "fontSize": 68, "color": "black"},
          "encoding": {"text": {"field": "t"}}
        },
        {
          "data": {"name": "titleSup"},
          "mark": {"type": "text", "align": "left", "baseline": "alphabetic", "font": "Liberation Sans", "fontWeight": "bold", "fontSize": 62, "color": "black"},
          "encoding": {"text": {"field": "t"}}
        },
        {
          "data": {"name": "titleItalic"},
          "mark": {"type": "text", "align": "left", "baseline": "alphabetic", "font": "DejaVu Sans", "fontWeight": "bold", "fontStyle": "italic", "fontSize": 68, "color": "black"},
          "encoding": {"text": {"field": "t"}}
        },
        {
          "data": {"name": "titleSymbol"},
          "mark": {"type": "text", "align": "left", "baseline": "alphabetic", "font": "Liberation Serif", "fontSize": 72, "color": "black"},
          "encoding": {"text": {"field": "t"}}
        },
        {
          "data": {"name": "titleSub"},
          "mark": {"type": "text", "align": "left", "baseline": "alphabetic", "font": "DejaVu Sans", "fontWeight": "bold", "fontSize": 62, "color": "black"},
          "encoding": {"text": {"field": "t"}}
        },
        {
          "data": {"name": "titleDeg"},
          "mark": {"type": "text", "align": "left", "baseline": "alphabetic", "font": "DejaVu Sans", "fontWeight": "bold", "fontSize": 48, "color": "black"},
          "encoding": {"text": {"field": "t"}}
        },
        {
          "data": {"name": "xTitleBig"},
          "mark": {"type": "text", "align": "left", "baseline": "alphabetic", "font": "Liberation Sans", "fontWeight": "bold", "fontSize": 67, "color": "black"},
          "encoding": {"text": {"field": "t"}}
        },
        {
          "data": {"name": "xTitleSub"},
          "mark": {"type": "text", "align": "left", "baseline": "alphabetic", "font": "DejaVu Sans", "fontWeight": "bold", "fontSize": 60, "color": "black"},
          "encoding": {"text": {"field": "t"}}
        },
        {
          "data": {"name": "band"},
          "mark": {"type": "rect", "color": "#ef2a10", "fillOpacity": 0.14, "strokeWidth": 0},
          "encoding": {"x2": {"field": "E2"}, "y2": {"field": "v2"}}
        }
      ],
      "resolve": {"axis": {"x": "independent", "y": "independent"}}
    },
    {
      "encoding": {
        "x": {"field": "E", "type": "quantitative", "scale": {"domain": [8.5, 9.161], "range": [1543, 1858], "nice": false, "zero": false}, "axis": null},
        "y": {"field": "v", "type": "quantitative", "scale": {"domain": [0, 33.8], "range": [500.3, 21], "nice": false, "zero": false}, "axis": null}
      },
      "layer": [
        {
          "data": {"name": "ias"},
          "mark": {"type": "line", "color": "black", "strokeWidth": 2.2},
          "encoding": {
            "x": {"field": "E", "type": "quantitative", "scale": {"domain": [8.5, 9.161], "range": [1543, 1858], "nice": false, "zero": false},
              "axis": {"orient": "bottom", "offset": -616.7, "values": [8.5, 8.6, 8.7, 8.8, 8.9, 9, 9.1],
                "labelExpr": "datum.value == 8.5 ? '8.5' : (datum.value == 9 ? '9' : '')", "title": null,
                "labelFont": "DejaVu Sans", "labelFontWeight": "bold", "labelFontSize": 50, "labelPadding": 32,
                "tickSize": -10, "tickWidth": 3, "domainWidth": 3.5, "labelFlush": false, "labelOverlap": false, "labelBound": false}},
            "y": {"field": "v", "type": "quantitative", "scale": {"domain": [0, 33.8], "range": [500.3, 21], "nice": false, "zero": false},
              "axis": {"orient": "left", "offset": -1543, "values": [0, 4, 8, 12, 16, 20, 24, 28, 32],
                "labelExpr": "datum.value % 8 == 0 ? datum.label : ''", "title": null,
                "labelFont": "DejaVu Sans", "labelFontWeight": "bold", "labelFontSize": 48, "labelPadding": 33, "labelOffset": 5,
                "tickSize": -15, "tickWidth": 3, "domainWidth": 3.5, "labelFlush": false, "labelOverlap": false, "labelBound": false}}
          }
        },
        {
          "data": {"name": "insetText"},
          "mark": {"type": "text", "align": "left", "baseline": "alphabetic", "font": "DejaVu Sans", "fontWeight": "bold", "fontSize": 54, "color": "black"},
          "encoding": {
            "x": {"field": "E", "type": "quantitative", "scale": {"domain": [8.5, 9.161], "range": [1543, 1858], "nice": false, "zero": false},
              "axis": {"orient": "top", "offset": -21, "values": [8.6, 8.7, 8.8, 8.9, 9, 9.1], "labels": false, "title": null,
                "tickSize": -9, "tickWidth": 3, "domainWidth": 3.5}},
            "text": {"field": "t"}
          }
        },
        {
          "data": {"name": "insetSub"},
          "mark": {"type": "text", "align": "left", "baseline": "alphabetic", "font": "DejaVu Sans", "fontWeight": "bold", "fontSize": 48, "color": "black"},
          "encoding": {"text": {"field": "t"}}
        },
        {
          "data": {"name": "insetYTitle"},
          "mark": {"type": "text", "angle": 270, "align": "center", "baseline": "middle", "font": "Liberation Sans", "fontSize": 50, "color": "black"},
          "encoding": {"text": {"field": "t"}}
        }
      ],
      "resolve": {"axis": {"x": "independent", "y": "independent"}}
    }
  ],
  "resolve": {"scale": {"x": "independent", "y": "independent"}}
}
